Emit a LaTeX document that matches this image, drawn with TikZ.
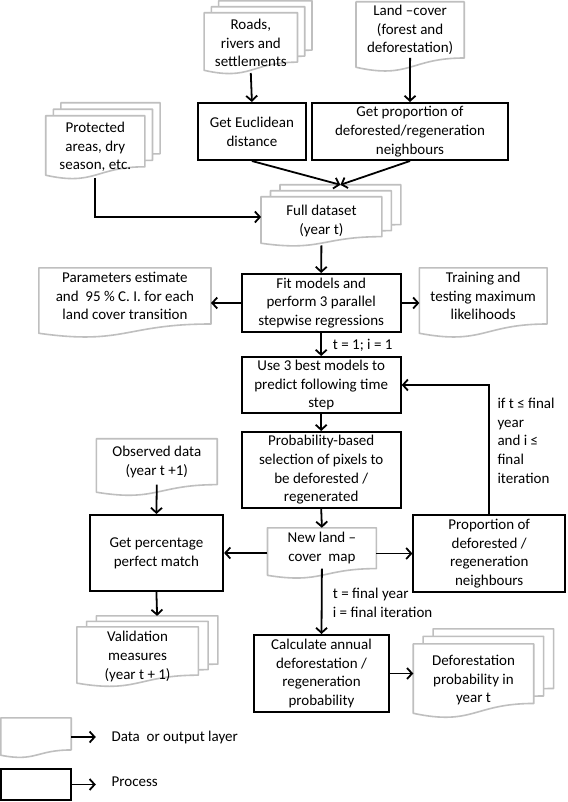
\documentclass[tikz,border=0pt]{standalone}
\usepackage{fontspec}
\setmainfont{Carlito}
\usetikzlibrary{arrows.meta,calc,backgrounds}
\definecolor{docgray}{HTML}{BFBFBF}

\tikzset{
  procbox/.style={rectangle, draw, line width=2pt, align=center, inner sep=0pt},
  databox/.style={rectangle, align=center, inner sep=0pt},
  docline/.style={draw=docgray, line width=1.6pt, fill=white, line join=round},
  flow/.style={-{Straight Barb[length=5pt,width=11pt]}, line width=1.8pt},
  note/.style={align=left, inner sep=0pt, anchor=west}
}

% data layer outline: node, ratio, back layers, dx, dy
\newcommand{\datalayer}[5]{%
  \foreach \k in {#3,...,0}{
    \draw[docline] ($(#1.north west)+(\k*#4,-\k*#5)$) -- ($(#1.north east)+(\k*#4,-\k*#5)$)
      -- ($(#1.north east)!#2!(#1.south east)+(\k*#4,-\k*#5)$)
      .. controls ($(#1.north)!#2!(#1.south)+(\k*#4,-\k*#5)$) and ($(#1.north)!#2*1.38!(#1.south)+(\k*#4,-\k*#5)$)
      .. ($(#1.north west)!#2*1.165!(#1.south west)+(\k*#4,-\k*#5)$) -- cycle;
  }
  \coordinate (#1-top) at ($(#1.north)+(#3*#4,-#3*#5)$);
}

\begin{document}
\begin{tikzpicture}[x=1pt, y=-1pt, font=\fontsize{15}{18.7}\selectfont]
  \useasboundingbox (0,0) rectangle (567,802);

  % input layers and first processes
  \node[databox, minimum width=93pt, minimum height=59.8pt] (roads) at (250.8,42.9) {Roads,\\rivers and\\settlements};
  \node[databox, minimum width=107.8pt, minimum height=55.8pt] (land) at (410.1,29.9) {Land --cover\\(forest and\\deforestation)};
  \node[databox, minimum width=98.8pt, minimum height=61.8pt] (protect) at (95.3,146.9) {Protected\\areas, dry\\season, etc.};
  \node[procbox, minimum width=107.4pt, minimum height=57pt] (euclid) at (251.9,131.5) {Get Euclidean\\distance};
  \node[procbox, minimum width=196.3pt, minimum height=57pt] (getprop) at (410,131.5) {Get proportion of\\deforested/regeneration\\neighbours};
  \node[databox, minimum width=120.5pt, minimum height=48.2pt] (full) at (321.4,221.1) {Full dataset\\(year t)};
  \coordinate (fullin) at (261.1,217);

  % model fitting
  \node[procbox, minimum width=159pt, minimum height=58pt] (fit) at (321.2,303) {Fit models and\\perform 3 parallel\\stepwise regressions};
  \node[databox, minimum width=171.8pt, minimum height=55.8pt] (params) at (124.9,295.9) {Parameters estimate\\and\ \ 95 \% C. I. for each\\land cover transition};
  \node[databox, minimum width=127.3pt, minimum height=55.8pt] (train) at (483.2,295.9) {Training and\\testing maximum\\likelihoods};

  % simulation loop
  \node[procbox, minimum width=159pt, minimum height=56pt] (use) at (321.2,385) {Use 3 best models to\\predict following time\\step};
  \node[procbox, minimum width=159pt, minimum height=76pt] (select) at (321.2,470) {Probability-based\\selection of pixels to\\be deforested /\\regenerated};
  \node[databox, minimum width=120.4pt, minimum height=45.5pt] (observed) at (156.8,461.7) {Observed data\\(year t +1)};
  \node[procbox, minimum width=133.4pt, minimum height=76pt] (match) at (156.4,553) {Get percentage\\perfect match};
  \node[databox, minimum width=108.5pt, minimum height=40.4pt] (newmap) at (321.9,548.2) {New land --\\cover\ \ map};
  \node[procbox, minimum width=151.6pt, minimum height=77pt] (neigh) at (489.2,553.5) {Proportion of\\deforested /\\regeneration\\neighbours};

  % outputs
  \node[databox, minimum width=121.2pt, minimum height=58.5pt] (valid) at (137.6,656.3) {Validation\\measures\\(year t + 1)};
  \node[procbox, minimum width=134.6pt, minimum height=77pt] (annual) at (321.5,673.5) {Calculate annual\\deforestation /\\regeneration\\probability};
  \node[databox, minimum width=120.1pt, minimum height=72.3pt] (probmap) at (473.5,680.2) {Deforestation\\probability in\\year t};

  % conditions
  \node[note] (tinit) at (332.7,345) {t = 1; i = 1};
  \node[note] (loopcond) at (497.3,440.6) {if t ≤ final\\year\\and i ≤\\final\\iteration};
  \node[note] (tfinal) at (332.7,602.5) {t = final year\\i = final iteration};

  % legend
  \node[databox, minimum width=70pt, minimum height=31.7pt] (keydata) at (36,733.9) {};
  \node[procbox, minimum width=70pt, minimum height=31pt] (keyproc) at (36,784.5) {};
  \coordinate (keydataend) at (95.8,737);
  \coordinate (keyprocend) at (95.8,784.5);
  \node[note] (keydatatext) at (111.4,737) {Data\ \ or output layer};
  \node[note] (keyproctext) at (111.4,782) {Process};

  \begin{scope}[on background layer]
    \fill[white] (0,0) rectangle (567,802);
    \datalayer{roads}{0.82}{2}{7.25}{6}
    \datalayer{land}{1}{0}{0}{0}
    \datalayer{protect}{0.82}{2}{7.6}{6.5}
    \datalayer{full}{0.82}{2}{9.5}{6}
    \datalayer{params}{1}{0}{0}{0}
    \datalayer{train}{1}{0}{0}{0}
    \datalayer{observed}{1}{0}{0}{0}
    \datalayer{newmap}{1}{0}{0}{0}
    \datalayer{valid}{0.82}{2}{9.75}{5.5}
    \datalayer{probmap}{0.82}{2}{9.9}{7.5}
    \datalayer{keydata}{1}{0}{0}{0}
  \end{scope}

  % connectors
  \draw[flow] (roads.south) -- (euclid.north);
  \draw[flow] (land.south) -- (getprop.north);
  \draw[flow] (euclid.south) -- (full-top);
  \draw[flow] (getprop.south) -- (full-top);
  \draw[flow] (protect.south) |- (fullin);
  \draw[flow] (full.south) -- (fit.north);
  \draw[flow] (fit.west) -- (fit.west -| params.east);
  \draw[flow] (fit.east) -- (fit.east -| train.west);
  \draw[flow] (fit.south) -- (use.north);
  \draw[flow] (use.south) -- (select.north);
  \draw[flow] (neigh.north) |- (use.east);
  \draw[flow] (select.south) -- (newmap.north);
  \draw[flow] (observed.south) -- (match.north);
  \draw[flow] (newmap.west |- match.east) -- (match.east);
  \draw[flow] (newmap.east |- neigh.west) -- (neigh.west);
  \draw[flow] (newmap.south) -- (annual.north);
  \draw[flow] (match.south) -- (valid-top);
  \draw[flow] (annual.east) -- (annual.east -| probmap.west);
  \draw[flow] (keydata.east |- keydataend) -- (keydataend);
  \draw[flow] (keyproc.east) -- (keyprocend);
\end{tikzpicture}
\end{document}
